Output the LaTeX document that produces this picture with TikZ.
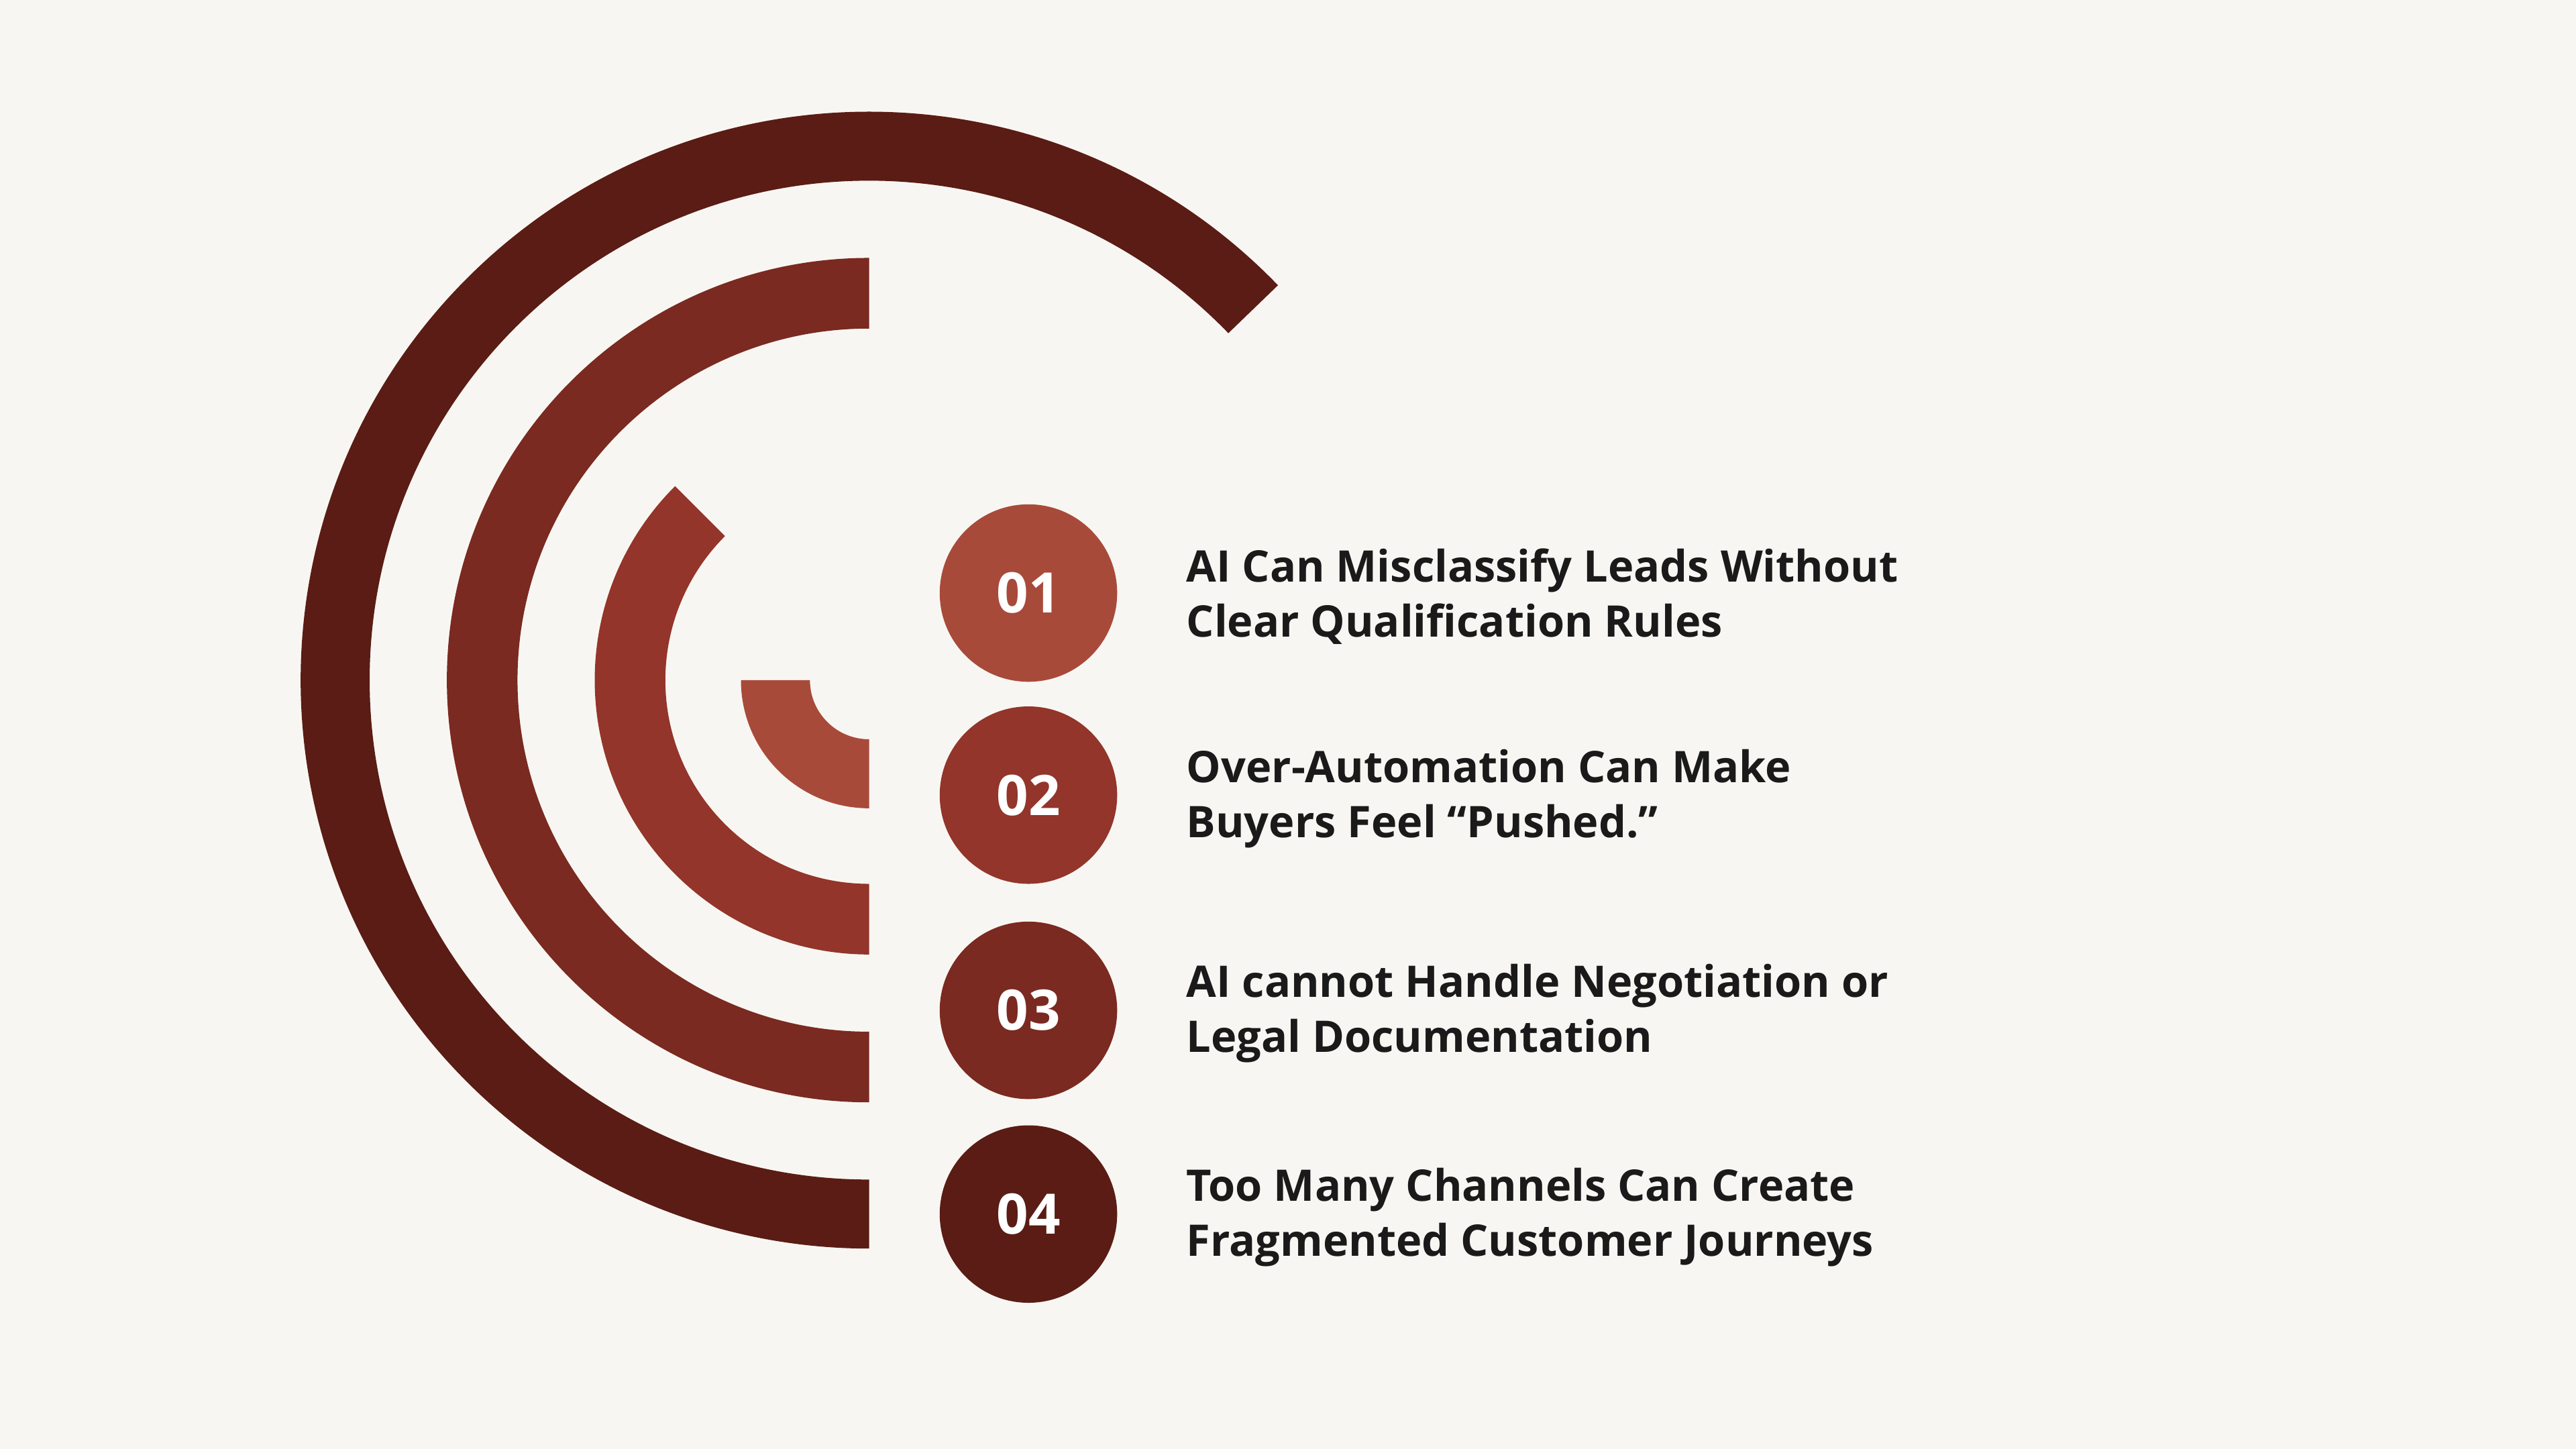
\documentclass[tikz,border=0pt]{standalone}
\usepackage{fontspec}
\setmainfont{Open Sans}[Ligatures=NoCommon]
\usetikzlibrary{calc}
\definecolor{bg}{HTML}{F8F6F2}
\definecolor{cA}{HTML}{A84A3A}
\definecolor{cB}{HTML}{93352A}
\definecolor{cC}{HTML}{7A2A20}
\definecolor{cD}{HTML}{5A1C14}
\definecolor{txt}{HTML}{1A1A1A}
\tikzset{
  num/.style={circle,minimum size=108pt,inner sep=0pt,text=white,font=\fontsize{34}{34}\selectfont\bfseries},
  lbl/.style={anchor=west,align=left,text=txt,font=\fontsize{26.5}{33.5}\selectfont\bfseries,inner sep=0pt}
}
\newcommand{\annsec}[5]{% color, a1, a2, R, r
  \fill[#1] ($(c)+(#2:#4)$) arc[start angle=#2,end angle=#3,radius=#4] -- ($(c)+(#3:#5)$) arc[start angle=#3,end angle=#2,radius=#5] -- cycle;}
\begin{document}
\begin{tikzpicture}[x=1pt,y=1pt]
\fill[bg] (0,0) rectangle (1568,882);
\useasboundingbox (0,0) rectangle (1568,882);
\coordinate (c) at (529,468);
\annsec{cD}{44}{270}{346}{304}
\annsec{cC}{90}{270}{257}{214}
\annsec{cB}{135}{270}{167}{124}
\annsec{cA}{180}{270}{78}{36}
\node[num,fill=cA] (n1) at (626,521) {01};
\node[num,fill=cB] (n2) at (626,398) {02};
\node[num,fill=cC] (n3) at (626,267) {03};
\node[num,fill=cD] (n4) at (626,143) {04};
\node[lbl] (t1) at (722,519) {AI Can Misclassify Leads Without\\Clear Qualification Rules};
\node[lbl] (t2) at (722,396) {Over-Automation Can Make\\Buyers Feel “Pushed.”};
\node[lbl] (t3) at (722,265) {AI cannot Handle Negotiation or\\Legal Documentation};
\node[lbl] (t4) at (722,141) {Too Many Channels Can Create\\Fragmented Customer Journeys};
\end{tikzpicture}
\end{document}
